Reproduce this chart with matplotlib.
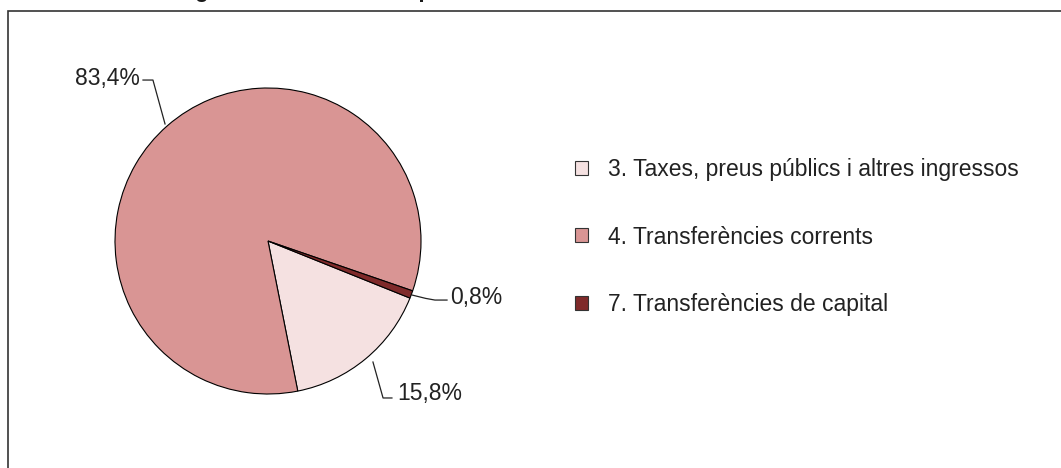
import matplotlib.pyplot as plt
from matplotlib.patches import Patch, Rectangle

# Dades del gràfic
capitols = ["3. Taxes, preus públics i altres ingressos",
            "4. Transferències corrents",
            "7. Transferències de capital"]
percentatges = [15.8, 83.4, 0.8]
etiquetes = ["15,8%", "83,4%", "0,8%"]
colors = ["#F5E1E1", "#D99594", "#7F2A2A"]
titol = "Estructura dels ingressos de l'exercici per naturalesa"

plt.rcParams["font.family"] = ["Liberation Sans", "DejaVu Sans"]
fs = 16.5

W, H = 1061, 468
fig = plt.figure(figsize=(W / 100, H / 100), dpi=100)

# marc del gràfic (surt per la dreta i per baix)
fig.patches.append(Rectangle((8 / W, -0.1), 1.1, 1 - 11 / H + 0.1,
                             transform=fig.transFigure, fill=False,
                             edgecolor="#333333", linewidth=1.2))

# títol, tallat per dalt com a la referència
fig.text(8 / W, 1 + 3.5 / H, titol, fontsize=16, fontweight="bold",
         va="baseline", ha="left", color="#1a1a1a")

# pastís: centre (268, 241), radi 153 px
cx, cy, r = 268, 241, 153
ax = fig.add_axes([(cx - r) / W, (H - cy - r) / H, 2 * r / W, 2 * r / H])
wedges, _ = ax.pie(percentatges, colors=colors, startangle=-21.9,
                   counterclock=False, radius=1,
                   wedgeprops=dict(edgecolor="black", linewidth=0.8))
ax.set_xlim(-1, 1)
ax.set_ylim(-1, 1)
ax.set_aspect("equal")
ax.axis("off")

# etiquetes amb línies guia
lc = "#222222"
ax.plot([-0.673, -0.752, -0.817], [0.765, 1.052, 1.052], color=lc, lw=0.9, clip_on=False)
ax.text(-0.837, 1.062, etiquetes[1], fontsize=fs, ha="right", va="center", color="#222222")

ax.plot([0.941, 1.03, 1.091, 1.170], [-0.353, -0.375, -0.386, -0.386], color=lc, lw=0.9, clip_on=False)
ax.text(1.19, -0.37, etiquetes[2], fontsize=fs, ha="left", va="center", color="#222222")

ax.plot([0.686, 0.752, 0.810], [-0.791, -1.026, -1.026], color=lc, lw=0.9, clip_on=False)
ax.text(0.843, -0.995, etiquetes[0], fontsize=fs, ha="left", va="center", color="#222222")

# llegenda
handles = [Patch(facecolor=c, edgecolor="#333333", linewidth=0.8) for c in colors]
fig.legend(handles, capitols, loc="center left",
           bbox_to_anchor=(575 / W, (H - 237) / H), frameon=False,
           fontsize=fs, handlelength=0.55, handleheight=0.55,
           handletextpad=0.9, labelspacing=1.93, borderpad=0, borderaxespad=0,
           labelcolor="#222222")

fig.savefig("out.png", dpi=100)
